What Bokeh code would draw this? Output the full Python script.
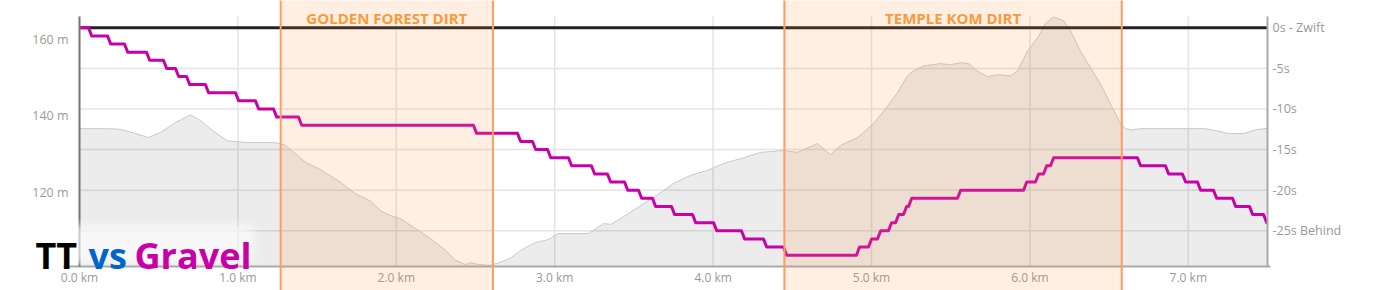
from bokeh.plotting import figure
from bokeh.models import (Range1d, LinearAxis, FixedTicker, PrintfTickFormatter,
                          BoxAnnotation, Label)
from bokeh.embed import file_html
from bokeh.resources import INLINE

# ---------------- data ----------------
course_km = 7.5

dist_km = [0.000, 0.164, 0.240, 0.290, 0.354, 0.436, 0.511, 0.606, 0.700, 0.764,
           0.840, 0.934, 1.048, 1.218, 1.269, 1.301, 1.364, 1.427, 1.521, 1.648,
           1.742, 1.837, 1.900, 1.963, 2.027, 2.121, 2.216, 2.311, 2.374, 2.437,
           2.468, 2.519, 2.595, 2.658, 2.721, 2.784, 2.879, 2.942, 2.973, 3.018,
           3.213, 3.308, 3.352, 3.415, 3.523, 3.624, 3.750, 3.857, 3.965, 4.066,
           4.192, 4.299, 4.444, 4.533, 4.659, 4.741, 4.804, 4.912, 5.013, 5.088,
           5.164, 5.227, 5.265, 5.328, 5.436, 5.499, 5.562, 5.612, 5.669, 5.732,
           5.795, 5.878, 5.922, 5.985, 6.048, 6.098, 6.149, 6.212, 6.256, 6.319,
           6.383, 6.446, 6.509, 6.572, 6.604, 6.648, 6.698, 7.109, 7.172, 7.254,
           7.348, 7.424, 7.500]
elev_m = [136.6, 136.6, 136.5, 136.1, 135.3, 134.3, 135.6, 138.2, 140.2, 138.7,
          136.1, 133.4, 133.0, 133.0, 132.7, 132.2, 130.1, 127.8, 125.9, 122.6,
          119.6, 117.7, 115.2, 113.9, 113.1, 110.5, 107.9, 104.8, 102.2, 101.1,
          101.6, 101.1, 100.9, 101.7, 102.8, 104.8, 106.9, 107.4, 107.9, 109.2,
          109.2, 111.8, 111.6, 113.1, 116.0, 118.6, 122.3, 124.4, 125.7, 127.5,
          129.0, 130.4, 130.9, 130.4, 132.7, 129.8, 132.2, 134.3, 137.9, 141.8,
          146.0, 150.4, 151.7, 153.0, 153.6, 153.3, 153.8, 153.6, 151.7, 150.2,
          150.7, 150.4, 151.7, 156.9, 160.3, 164.0, 165.8, 164.8, 162.2, 156.9,
          152.5, 148.3, 143.1, 137.9, 136.6, 136.3, 136.6, 136.6, 136.1, 135.3,
          135.3, 136.3, 136.7]

# distance (km) at which the Gravel-vs-TT gap changes, and the gap (s) after it
step_km = [0.057, 0.177, 0.284, 0.423, 0.530, 0.606, 0.676, 0.795, 0.985, 1.111,
           1.225, 1.383, 2.487, 2.765, 2.860, 2.955, 3.087, 3.232, 3.333, 3.441,
           3.529, 3.617, 3.737, 3.870, 4.003, 4.179, 4.318, 4.444, 4.905, 4.981,
           5.038, 5.107, 5.152, 5.202, 5.234, 5.543, 5.960, 6.035, 6.086, 6.130,
           6.679, 6.856, 6.963, 7.058, 7.159, 7.279, 7.386, 7.475]
gap_s = [-1, -2, -3, -4, -5, -6, -7, -8, -9, -10,
         -11, -12, -13, -14, -15, -16, -17, -18, -19, -20,
         -21, -22, -23, -24, -25, -26, -27, -28, -27, -26,
         -25, -24, -23, -22, -21, -20, -19, -18, -17, -16,
         -17, -18, -19, -20, -21, -22, -23, -24]
start_gap = 0
zwift_gap = [0]

sections = ["GOLDEN FOREST DIRT", "TEMPLE KOM DIRT"]
sec_start = [1.27, 4.45]
sec_end = [2.61, 6.58]

x_ticks = [0, 1, 2, 3, 4, 5, 6, 7]
elev_ticks = [120, 140, 160]
gap_ticks = [0, -5, -10, -15, -20, -25]
gap_labels = ["0s - Zwift", "-5s", "-10s", "-15s", "-20s", "-25s Behind"]

# ---------------- layout constants (pixels) ----------------
W, H = 1378, 290
PL, PR, PT, PB = 79, 1267, 16, 266          # plot-area edges on the canvas
X0, X1 = 0.0, course_km                      # km
E0, E1 = 100.6, 165.9                        # elevation, m
G0, G1 = -29.4, 1.39                         # gap, s

kx = (PR - PL) / (X1 - X0)
ke = (PB - PT) / (E1 - E0)
kg = (PB - PT) / (G1 - G0)


def px_x(px):
    return X0 + (px - PL) / kx


def px_e(py):
    return E0 + (PB - py) / ke


FONT = "Open Sans"
GRID = "#e4e4e4"

# the frame covers the whole canvas; axes are pinned with fixed_location
p = figure(width=W, height=H, output_backend="svg", toolbar_location=None,
           x_range=Range1d(px_x(0), px_x(W)), y_range=Range1d(px_e(H), px_e(0)),
           x_axis_type=None, y_axis_type=None)
p.min_border = 0
p.min_border_left = p.min_border_right = p.min_border_top = p.min_border_bottom = 0
p.outline_line_color = None
p.background_fill_color = "white"
p.border_fill_color = "white"
p.xgrid.visible = False
p.ygrid.visible = False
p.extra_y_ranges = {"gap": Range1d(G0 - (H - PB) / kg, G1 + PT / kg)}


def style_axis(ax, color, line_color, size, standoff):
    ax.axis_line_color = line_color
    ax.axis_line_width = 2
    ax.major_tick_line_color = None
    ax.minor_tick_line_color = None
    ax.major_tick_out = 0
    ax.major_tick_in = 0
    ax.minor_tick_out = 0
    ax.minor_tick_in = 0
    ax.major_label_text_color = color
    ax.major_label_text_font = FONT
    ax.major_label_text_font_size = size
    ax.major_label_standoff = standoff


# bottom axis
xa = LinearAxis(ticker=FixedTicker(ticks=x_ticks), fixed_location=E0,
                formatter=PrintfTickFormatter(format="%.1f km"),
                bounds=(px_x(63), X1 + 0.02))
style_axis(xa, "#999999", "#aaaaaa", "12px", 2)
p.add_layout(xa, "below")

# left axis (elevation)
ya = LinearAxis(ticker=FixedTicker(ticks=elev_ticks), fixed_location=X0,
                formatter=PrintfTickFormatter(format="%d m"), bounds=(E0, E1))
style_axis(ya, "#a09a96", "#777777", "12.5px", 11)
p.add_layout(ya, "left")

# right axis (time gap)
ra = LinearAxis(y_range_name="gap", ticker=FixedTicker(ticks=gap_ticks), fixed_location=X1,
                major_label_overrides=dict(zip(gap_ticks, gap_labels)), bounds=(G0, G1))
style_axis(ra, "#999999", "#aaaaaa", "12.5px", 5)
p.add_layout(ra, "right")

# grid lines (limited to the plot area)
p.segment(x0=x_ticks, x1=x_ticks, y0=[E0] * len(x_ticks), y1=[E1] * len(x_ticks),
          line_color=GRID, line_width=1.5)
p.segment(x0=[X0] * len(gap_ticks), x1=[X1] * len(gap_ticks), y0=gap_ticks, y1=gap_ticks,
          y_range_name="gap", line_color=GRID, line_width=1.5)

# elevation profile
p.varea(x=dist_km, y1=[E0] * len(dist_km), y2=elev_m, fill_color="#000000", fill_alpha=0.075)
p.line(x=dist_km, y=elev_m, line_color="#c8c8c8", line_width=1)

# Zwift TT reference line
p.segment(x0=[X0], x1=[X1], y0=zwift_gap, y1=zwift_gap, y_range_name="gap",
          line_color="#222222", line_width=3)

# Gravel gap line (steps with short transitions)
gx, gy = [X0], [start_gap]
for d, g in zip(step_km, gap_s):
    gx += [d, d + 0.02]
    gy += [gy[-1], g]
gx.append(X1)
gy.append(gy[-1])
p.line(x=gx, y=gy, y_range_name="gap", line_color="#c800a8", line_width=3,
       line_join="round")

# dirt sections (full canvas height)
for name, s, e in zip(sections, sec_start, sec_end):
    p.add_layout(BoxAnnotation(left=s, right=e, bottom=E0 - 100, top=E1 + 100,
                               fill_color="#fd8d3c", fill_alpha=0.15,
                               line_color="#ff9c62", line_alpha=1.0, line_width=2))
    p.add_layout(Label(x=(s + e) / 2, y=px_e(17), text=name, text_align="center",
                       text_baseline="middle", text_color="#f99a3c",
                       text_font=FONT, text_font_style="bold", text_font_size="15px"))

# soft white glow behind the logo
for pad, a in [(9, 0.12), (6, 0.18), (3, 0.25), (0, 0.3)]:
    p.add_layout(BoxAnnotation(left=px_x(36 - pad), right=px_x(250 + pad),
                               top=px_e(228 - pad), bottom=px_e(min(259 + pad, 264)),
                               fill_color="white", fill_alpha=a, line_color=None,
                               border_radius=12))

# title logo
for txt, xp, col in [("TT", 35, "#000000"), ("vs", 88, "#0066cc"), ("Gravel", 134, "#c800a8")]:
    p.add_layout(Label(x=px_x(xp), y=px_e(255), text=txt, text_align="left",
                       text_baseline="alphabetic", text_color=col,
                       text_font=FONT, text_font_style="bold", text_font_size="36px"))

open("out.html", "w").write(file_html(p, INLINE))
